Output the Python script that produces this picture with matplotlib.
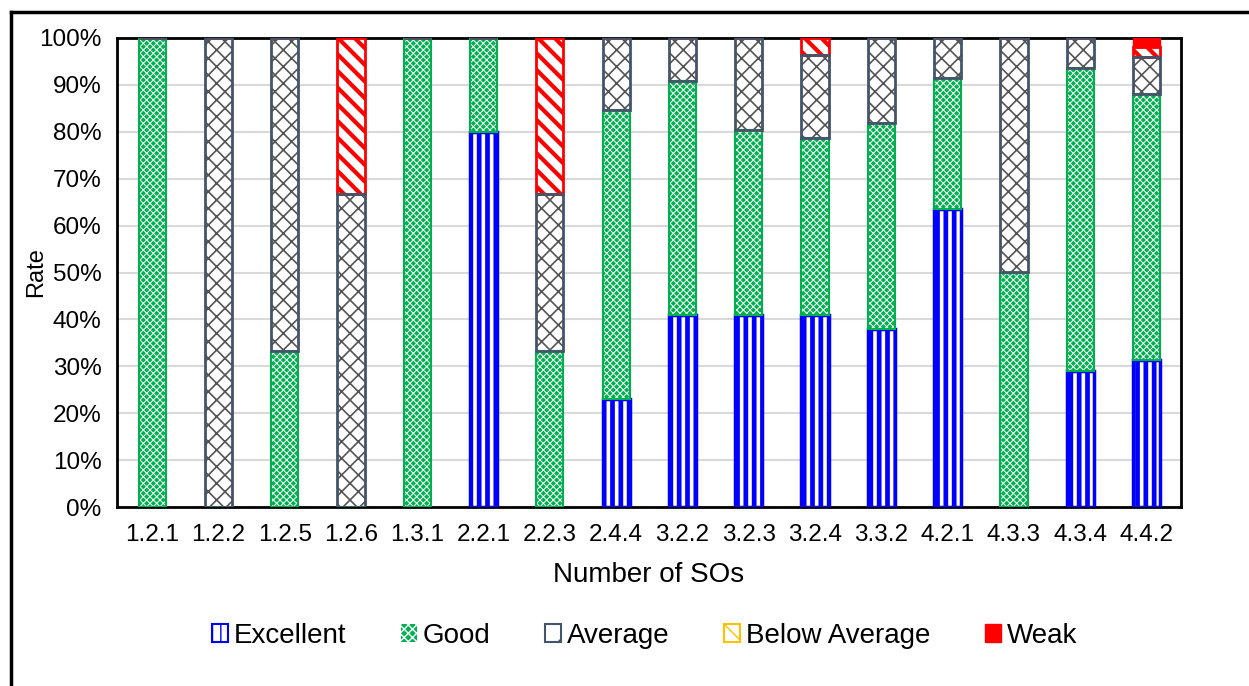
import numpy as np
import matplotlib.pyplot as plt
from matplotlib.patches import Patch
from matplotlib.lines import Line2D
from matplotlib.ticker import PercentFormatter

plt.rcParams['font.family'] = ['Liberation Sans', 'DejaVu Sans']

sos = ['1.2.1', '1.2.2', '1.2.5', '1.2.6', '1.3.1', '2.2.1', '2.2.3', '2.4.4',
       '3.2.2', '3.2.3', '3.2.4', '3.3.2', '4.2.1', '4.3.3', '4.3.4', '4.4.2']

excellent = [0, 0, 0, 0, 0, 80, 0, 23.1, 40.9, 40.9, 41.0, 38.0, 63.6, 0, 29.0, 31.4]
good = [100, 0, 33.3, 0, 100, 20, 33.3, 61.5, 50.0, 39.4, 37.6, 43.8, 27.9, 50, 64.5, 56.7]
average = [0, 100, 66.7, 66.7, 0, 0, 33.4, 15.4, 9.1, 19.7, 17.8, 18.2, 8.5, 50, 6.5, 7.9]
below_avg = [0, 0, 0, 33.3, 0, 0, 33.3, 0, 0, 0, 3.6, 0, 0, 0, 0, 2.0]
weak = [0, 0, 0, 0, 0, 0, 0, 0, 0, 0, 0, 0, 0, 0, 0, 2.0]

x = np.arange(len(sos))
w = 0.41

blue = '#0000FF'
green = '#00B050'
grey = '#44546A'
red = '#FF0000'


def hatch_lw(patches, lw):
    for p in patches:
        if hasattr(p, 'set_hatch_linewidth'):
            p.set_hatch_linewidth(lw)


fig = plt.figure(figsize=(12.49, 6.86), dpi=100)
ax = fig.add_axes([117/1249, 1-507/686, (1181-117)/1249, (507-38)/686])

bottom = np.zeros(len(sos))

# excellent - blue vertical stripes
b = ax.bar(x, excellent, w, bottom=bottom, color='white', edgecolor=blue, hatch='||', lw=2.5, zorder=3)
hatch_lw(b, 3.4)
bottom += excellent

# good - green with small white dots
b = ax.bar(x, good, w, bottom=bottom, color=green, edgecolor='white', hatch='xxxxx', lw=0, zorder=3)
hatch_lw(b, 0.7)
ax.bar(x, good, w, bottom=bottom, fill=False, edgecolor=green, lw=1.5, zorder=4)
bottom += good

# average - grey crosses
b = ax.bar(x, average, w, bottom=bottom, color='white', edgecolor='#555555', hatch='xx', lw=0, zorder=3)
hatch_lw(b, 1.2)
ax.bar(x, average, w, bottom=bottom, fill=False, edgecolor=grey, lw=2, zorder=4)
bottom += average

# below average - red diagonal stripes
b = ax.bar(x, below_avg, w, bottom=bottom, color='white', edgecolor=red, hatch='\\\\', lw=2, zorder=3)
hatch_lw(b, 3.0)
bottom += below_avg

ax.bar(x, weak, w, bottom=bottom, color=red, edgecolor=red, lw=1, zorder=3)

ax.set_xlim(-0.53, 15.52)
ax.set_ylim(0, 100)
ax.set_yticks(np.arange(0, 101, 10))
ax.yaxis.set_major_formatter(PercentFormatter(decimals=0))
ax.set_xticks(x)
ax.set_xticklabels(sos, fontsize=17.5)
ax.tick_params(axis='y', labelsize=17.5, length=0, pad=11)
ax.tick_params(axis='x', length=0, pad=12)
ax.grid(axis='y', color='#D9D9D9', lw=1.5, zorder=0)
for s in ax.spines.values():
    s.set_color('black')
    s.set_linewidth(2)

ax.set_xlabel('Number of SOs', fontsize=20, labelpad=12)
ax.set_ylabel('Rate', fontsize=17)
ax.yaxis.set_label_coords(-0.066, 0.5)

handles = [
    Patch(facecolor='white', edgecolor=blue, hatch='||', lw=1.5),
    Patch(facecolor=green, edgecolor='white', hatch='xxxx', lw=0),
    Patch(facecolor='white', edgecolor=grey, hatch='/', lw=1.5),
    Patch(facecolor='white', edgecolor='#FFC000', hatch='\\\\', lw=1.5),
    Patch(facecolor=red, edgecolor=red),
]
hatch_lw(handles, 1.5)
labels = ['Excellent', 'Good', 'Average', 'Below Average', 'Weak']
fig.legend(handles, labels, loc='center', bbox_to_anchor=(0.516, 1-636/686), ncol=5,
           frameon=False, fontsize=20, handlelength=0.6, handleheight=0.6,
           handletextpad=0.2, columnspacing=1.95)

# outer border
fig.add_artist(Line2D([11/1249, 1], [1-12/686, 1-12/686], color='black', lw=2.5, transform=fig.transFigure))
fig.add_artist(Line2D([11/1249, 11/1249], [0, 1-12/686], color='black', lw=2.5, transform=fig.transFigure))

fig.savefig('out.png', dpi=100)
